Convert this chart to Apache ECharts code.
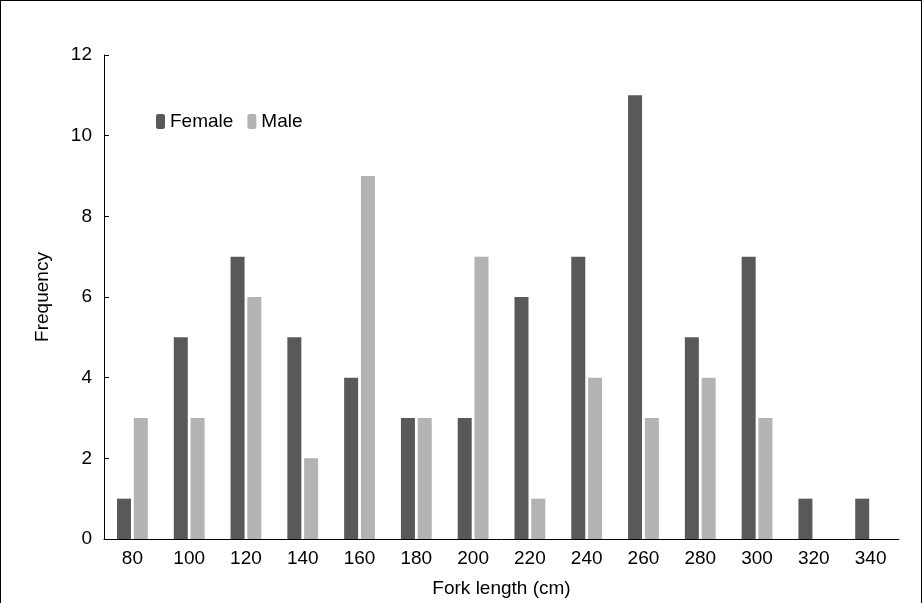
<!DOCTYPE html>
<html><head><meta charset="utf-8">
<script src="https://cdn.jsdelivr.net/npm/echarts@6/dist/echarts.min.js"></script>
<style>body{margin:0}#c{width:922px;height:603px;box-sizing:border-box;border:1px solid #000;border-bottom:none}</style>
</head><body><div id="c"></div>
<script>
var categories=['80','100','120','140','160','180','200','220','240','260','280','300','320','340'];
var female=[1,5,7,5,4,3,3,6,7,11,5,7,1,1];
var male=[3,3,6,2,9,3,7,1,4,3,4,3,0,0];
var chart=echarts.init(document.getElementById('c'));
var font='Liberation Sans';
chart.setOption({
  textStyle:{fontFamily:font},
  legend:{left:150,top:106,itemWidth:9,itemHeight:15,itemGap:14,
    textStyle:{fontSize:19,color:'#000',fontFamily:font},data:['Female','Male']},
  grid:{left:103,right:22,top:54,bottom:60},
  xAxis:{type:'category',data:categories,name:'Fork length (cm)',nameLocation:'middle',nameGap:40,
    nameTextStyle:{fontSize:19,color:'#000'},
    axisLine:{lineStyle:{color:'#000'}},axisTick:{show:false},
    axisLabel:{fontSize:19,color:'#000',margin:10}},
  yAxis:{type:'value',min:0,max:12,interval:2,name:'Frequency',nameLocation:'middle',nameGap:52,
    nameTextStyle:{fontSize:19,color:'#000'},
    axisLine:{show:true,lineStyle:{color:'#000'}},axisTick:{show:true,inside:true,length:5,lineStyle:{color:'#000'}},
    splitLine:{show:false},axisLabel:{fontSize:19,color:'#000',margin:12}},
  series:[
    {name:'Female',type:'bar',data:female,barWidth:14,barGap:'20%',itemStyle:{color:'#595959'}},
    {name:'Male',type:'bar',data:male,barWidth:14,itemStyle:{color:'#b3b3b3'}}
  ]
});
</script></body></html>
